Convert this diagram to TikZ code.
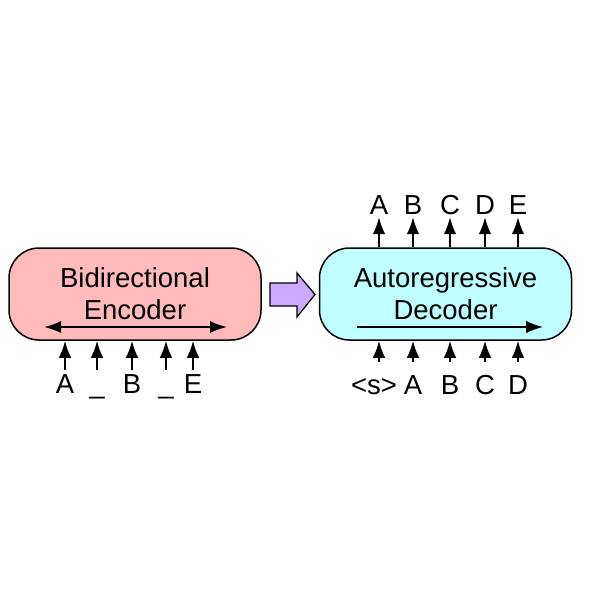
\documentclass[tikz,border=0pt]{standalone}
\usepackage{fontspec}
\setmainfont{Liberation Sans}
\usetikzlibrary{
	positioning
	,arrows.meta
}
\definecolor{encfill}{RGB}{255,187,187}
\definecolor{decfill}{RGB}{191,255,255}
\definecolor{passfill}{RGB}{204,170,255}
\newcommand{\feed}[3][]{
	\draw[#1] (#2) -- (#3);
}
\tikzset{
	block/.style={
		draw
		,line width=1.5pt
		,rounded corners=30pt
		,minimum width=252pt
		,minimum height=92pt
		,align=center
		,font=\fontsize{27.5}{32}\selectfont
	}
	,token/.style={
		inner sep=0pt
		,inner ysep=3pt
		,text height=20pt
		,text depth=0pt
		,font=\fontsize{27.5}{32}\selectfont
	}
	,flow/.style={line width=1.7pt}
	,tip/.style={flow, -{Latex[length=17pt,width=12.5pt]}}
	,twotip/.style={flow, {Latex[length=17pt,width=12pt]}-{Latex[length=17pt,width=12pt]}}
}

\begin{document}
\begin{tikzpicture}[x=1pt,y=-1pt]
	\useasboundingbox (0,0) rectangle (589,589);
	
	\node[block, fill=encfill](enc) at(135,294){Bidirectional\\Encoder};
	\node[block, fill=decfill](dec) at(445.5,294){Autoregressive\\Decoder};
	
	% attention direction inside the boxes
	\coordinate (encl) at(44,327);
	\coordinate (encr) at(227,327);
	\feed[twotip]{encl}{encr};
	\coordinate (decl) at(357,327);
	\coordinate (decr) at(543,327);
	\feed[tip]{decl}{decr};
	
	% corrupted input
	\foreach \x/\t [count=\i] in{
		65/A,97/\_,132/B,166/\_,193/E%
	}{
		\node[token, anchor=base](in\i) at(\x,393){\t};
		\feed[tip]{in\i}{in\i |- enc.south};
	}
	
	% shifted decoder input
	\foreach \x/\t/\s [count=\i] in{
		379/<s>/-5,413/A/0,450/B/0,485/C/0,518/D/0%
	}{
		\node[token, anchor=base](dn\i) at(\x+\s,394){\t};
		\coordinate (dt\i) at(\x,362);
		\feed[tip]{dt\i}{dt\i |- dec.south};
	}
	
	% decoder output
	\foreach \x/\t [count=\i] in{
		379/A,413/B,450/C,485/D,518/E%
	}{
		\node[token, anchor=base](up\i) at(\x,214){\t};
		\feed[tip]{up\i |- dec.north}{up\i};
	}
	
	% hand over
	\draw[line width=1.3pt, fill=passfill, line join=miter]
		(270,283) -- (297,283) -- (297,273) -- (315,294.5)
		-- (297,317) -- (297,306) -- (270,306) -- cycle;
\end{tikzpicture}
\end{document}
